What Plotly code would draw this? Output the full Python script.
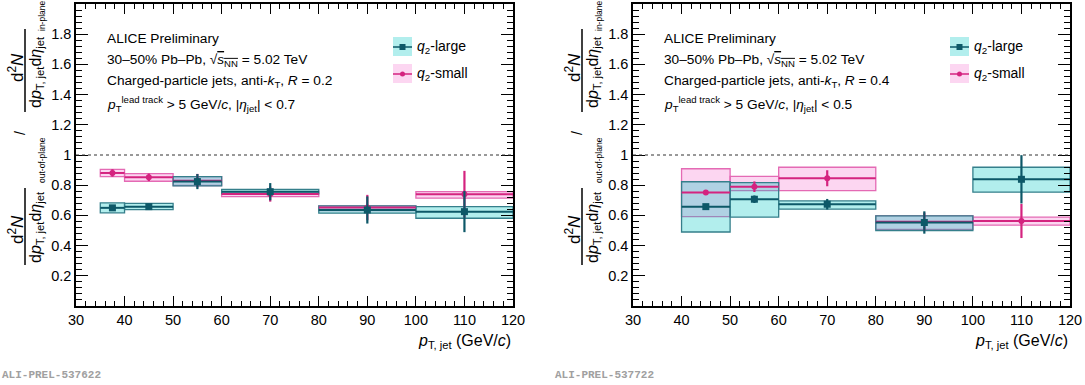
import plotly.graph_objects as go

W, H = 1085, 385
FONT = "Liberation Sans, Arial, Helvetica, sans-serif"

# ---------------- data ----------------
# R = 0.2 panel
bin_lo_R02 = [35, 40, 50, 60, 80, 100]
bin_hi_R02 = [40, 50, 60, 80, 100, 120]
large_R02 = [0.650, 0.658, 0.824, 0.757, 0.636, 0.625]
large_R02_stat = [0.012, 0.012, 0.050, 0.057, 0.090, 0.136]
large_R02_sys_up = [0.033, 0.022, 0.033, 0.016, 0.027, 0.033]
large_R02_sys_dn = [0.033, 0.020, 0.029, 0.015, 0.021, 0.044]
small_R02 = [0.881, 0.852, 0.830, 0.741, 0.652, 0.740]
small_R02_stat = [0.025, 0.025, 0.045, 0.050, 0.084, 0.155]
small_R02_sys_up = [0.024, 0.024, 0.027, 0.016, 0.011, 0.017]
small_R02_sys_dn = [0.024, 0.026, 0.032, 0.016, 0.020, 0.026]

# R = 0.4 panel
bin_lo_R04 = [40, 50, 60, 80, 100]
bin_hi_R04 = [50, 60, 80, 100, 120]
large_R04 = [0.658, 0.707, 0.674, 0.553, 0.839]
large_R04_stat = [0.012, 0.025, 0.035, 0.074, 0.160]
large_R04_sys_up = [0.165, 0.110, 0.022, 0.044, 0.080]
large_R04_sys_dn = [0.168, 0.119, 0.033, 0.053, 0.085]
small_R04 = [0.751, 0.790, 0.846, 0.558, 0.563]
small_R04_stat = [0.012, 0.035, 0.053, 0.060, 0.113]
small_R04_sys_up = [0.158, 0.069, 0.073, 0.040, 0.025]
small_R04_sys_dn = [0.159, 0.026, 0.082, 0.050, 0.028]

x_ticks = [30, 40, 50, 60, 70, 80, 90, 100, 110, 120]
y_tickvals = [0.2, 0.4, 0.6, 0.8, 1.0, 1.2, 1.4, 1.6, 1.8]
y_ticktext = ["0.2", "0.4", "0.6", "0.8", "1", "1.2", "1.4", "1.6", "1.8"]

# ---------------- styles ----------------
TEAL = "#0d5868"
TEAL_EDGE = "#357f8b"
TEAL_FILL = "rgba(0,200,195,0.30)"
MAG = "#d4237f"
MAG_EDGE = "#e46ab4"
MAG_FILL = "rgba(245,90,200,0.25)"


def px(x):
    return x / W


def py(y):
    return 1 - y / H


fig = go.Figure()

panels = [
    dict(xa="x", ya="y", lo=bin_lo_R02, hi=bin_hi_R02,
         L=large_R02, Ls=large_R02_stat, Lu=large_R02_sys_up, Ld=large_R02_sys_dn,
         S=small_R02, Ss=small_R02_stat, Su=small_R02_sys_up, Sd=small_R02_sys_dn),
    dict(xa="x2", ya="y2", lo=bin_lo_R04, hi=bin_hi_R04,
         L=large_R04, Ls=large_R04_stat, Lu=large_R04_sys_up, Ld=large_R04_sys_dn,
         S=small_R04, Ss=small_R04_stat, Su=small_R04_sys_up, Sd=small_R04_sys_dn),
]

for p in panels:
    centers = [(a + b) / 2 for a, b in zip(p["lo"], p["hi"])]
    widths = [b - a for a, b in zip(p["lo"], p["hi"])]
    halfw = [w / 2 for w in widths]
    # systematic boxes: small first, then large
    for vals, up, dn, fill, edge in [
        (p["S"], p["Su"], p["Sd"], MAG_FILL, MAG_EDGE),
        (p["L"], p["Lu"], p["Ld"], TEAL_FILL, TEAL_EDGE),
    ]:
        fig.add_trace(go.Bar(
            x=centers, y=[u + d for u, d in zip(up, dn)],
            base=[v - d for v, d in zip(vals, dn)], width=widths,
            marker=dict(color=fill, line=dict(color=edge, width=1.3)),
            xaxis=p["xa"], yaxis=p["ya"], showlegend=False, hoverinfo="skip"))
    for vals, st, col, sym, size in [
        (p["S"], p["Ss"], MAG, "circle", 6),
        (p["L"], p["Ls"], TEAL, "square", 7),
    ]:
        fig.add_trace(go.Scatter(
            x=centers, y=vals, mode="markers",
            marker=dict(symbol=sym, size=size, color=col),
            error_x=dict(type="data", array=halfw, thickness=2, width=0, color=col),
            error_y=dict(type="data", array=st, thickness=2.2, width=0, color=col),
            xaxis=p["xa"], yaxis=p["ya"], showlegend=False))

# ---------------- axes ----------------
ydom = [py(306), py(4)]
xdoms = [[px(76), px(513)], [px(633), px(1070)]]

common_x = dict(range=[30, 120], tickmode="array", tickvals=x_ticks,
                ticks="inside", ticklen=10, tickwidth=1, tickcolor="black",
                showline=True, linecolor="black", linewidth=1.5, mirror="allticks",
                showgrid=False, zeroline=False,
                tickfont=dict(family=FONT, size=14.5, color="black"),
                minor=dict(tick0=30, dtick=2, ticks="inside", ticklen=5, tickcolor="black", showgrid=False))
common_y = dict(range=[0, 2], domain=ydom, tickmode="array", tickvals=y_tickvals, ticktext=y_ticktext,
                ticks="inside", ticklen=12, tickwidth=1, tickcolor="black",
                showline=True, linecolor="black", linewidth=1.5, mirror="allticks",
                showgrid=False, zeroline=False,
                tickfont=dict(family=FONT, size=14.5, color="black"),
                minor=dict(tick0=0, dtick=0.04, ticks="inside", ticklen=6, tickcolor="black", showgrid=False))

fig.update_layout(
    width=W, height=H, margin=dict(l=0, r=0, t=0, b=0, autoexpand=False),
    paper_bgcolor="white", plot_bgcolor="white", barmode="overlay",
    xaxis=dict(domain=xdoms[0], anchor="y", **common_x),
    yaxis=dict(anchor="x", **common_y),
    xaxis2=dict(domain=xdoms[1], anchor="y2", **common_x),
    yaxis2=dict(anchor="x2", **common_y),
    showlegend=False,
)

shapes = []
annotations = []

panel_text = [
    ("Charged-particle jets, anti-<i>k</i><sub>T</sub>, <i>R</i> = 0.2", "0.7", "ALI-PREL-537622"),
    ("Charged-particle jets, anti-<i>k</i><sub>T</sub>, <i>R</i> = 0.4", "0.5", "ALI-PREL-537722"),
]

for i, (xa, ya) in enumerate([("x", "y"), ("x2", "y2")]):
    dx = 557 * i
    # dashed line at unity
    shapes.append(dict(type="line", xref=f"{xa} domain", yref=ya, x0=0, x1=1, y0=1, y1=1,
                       line=dict(color="#333333", width=1, dash="3px,3px")))
    tf = dict(family=FONT, size=13.7, color="black")
    lines = [
        (38, "ALICE Preliminary"),
        (61, "30–50% Pb–Pb, √<span style='text-decoration:overline'><i>s</i><sub>NN</sub></span> = 5.02 TeV"),
        (82, panel_text[i][0]),
        (104, "<i>p</i><sub>T</sub><sup>lead track</sup> > 5 GeV/<i>c</i>, |<i>η</i><sub>jet</sub>| < " + panel_text[i][1]),
    ]
    for yy, t in lines:
        annotations.append(dict(x=px(105 + dx), y=py(yy), xref="paper", yref="paper",
                                text=t, showarrow=False, xanchor="left", yanchor="middle", font=tf))
    # legend
    for yc, fill, edge, col, sym, label in [
        (47, TEAL_FILL, TEAL_EDGE, TEAL, "square", "<i>q</i><sub>2</sub>-large"),
        (74, MAG_FILL, MAG_EDGE, MAG, "circle", "<i>q</i><sub>2</sub>-small"),
    ]:
        shapes.append(dict(type="rect", xref="paper", yref="paper",
                           x0=px(393 + dx), x1=px(412 + dx), y0=py(yc - 10), y1=py(yc + 9),
                           fillcolor=fill, line=dict(width=0)))
        shapes.append(dict(type="line", xref="paper", yref="paper",
                           x0=px(393 + dx), x1=px(412 + dx), y0=py(yc), y1=py(yc),
                           line=dict(color=col, width=1.5)))
        if sym == "square":
            shapes.append(dict(type="rect", xref="paper", yref="paper",
                               x0=px(399.5 + dx), x1=px(405.5 + dx), y0=py(yc - 3), y1=py(yc + 3),
                               fillcolor=col, line=dict(width=0)))
        else:
            shapes.append(dict(type="circle", xref="paper", yref="paper",
                               x0=px(400 + dx), x1=px(405 + dx), y0=py(yc - 2.5), y1=py(yc + 2.5),
                               fillcolor=col, line=dict(width=0)))
        annotations.append(dict(x=px(415 + dx), y=py(yc), xref="paper", yref="paper", text=label,
                                showarrow=False, xanchor="left", yanchor="middle",
                                font=dict(family=FONT, size=14, color="black")))
    # x title
    annotations.append(dict(x=px(513 + dx), y=py(341), xref="paper", yref="paper",
                            text="<i>p</i><sub>T, jet</sub> (GeV/<i>c</i>)", showarrow=False,
                            xanchor="right", yanchor="middle",
                            font=dict(family=FONT, size=16, color="black")))
    # preliminary id
    annotations.append(dict(x=px(0 + dx - (4 if i else 0)), y=py(375), xref="paper", yref="paper",
                            text="<b>" + panel_text[i][2] + "</b>", showarrow=False,
                            xanchor="left", yanchor="middle",
                            font=dict(family="Liberation Mono, Courier New, monospace", size=11, color="#a0a0a0")))
    # y title: fraction / fraction
    nf = dict(family=FONT, size=17, color="black")
    df = dict(family=FONT, size=16, color="black")
    sf = dict(family=FONT, size=8.5, color="black")
    # top fraction (in-plane)
    annotations.append(dict(x=px(16 + dx), y=py(68), xref="paper", yref="paper", text="d<sup>2</sup><i>N</i>",
                            textangle=-90, showarrow=False, xanchor="center", yanchor="middle", font=nf))
    shapes.append(dict(type="line", xref="paper", yref="paper", x0=px(25 + dx), x1=px(25 + dx),
                       y0=py(29), y1=py(112), line=dict(color="black", width=1.5)))
    annotations.append(dict(x=px(36 + dx), y=py(72), xref="paper", yref="paper",
                            text="d<i>p</i><sub>T, jet</sub>d<i>η</i><sub>jet</sub>",
                            textangle=-90, showarrow=False, xanchor="center", yanchor="middle", font=df))
    annotations.append(dict(x=px(42 + dx), y=py(16), xref="paper", yref="paper", text="in-plane",
                            textangle=-90, showarrow=False, xanchor="center", yanchor="middle", font=sf))
    annotations.append(dict(x=px(20 + dx), y=py(133), xref="paper", yref="paper", text="/",
                            textangle=-90, showarrow=False, xanchor="center", yanchor="middle",
                            font=dict(family=FONT, size=14, color="black")))
    annotations.append(dict(x=px(42 + dx), y=py(160), xref="paper", yref="paper", text="out-of-plane",
                            textangle=-90, showarrow=False, xanchor="center", yanchor="middle", font=sf))
    # bottom fraction (out-of-plane)
    annotations.append(dict(x=px(16 + dx), y=py(230), xref="paper", yref="paper", text="d<sup>2</sup><i>N</i>",
                            textangle=-90, showarrow=False, xanchor="center", yanchor="middle", font=nf))
    shapes.append(dict(type="line", xref="paper", yref="paper", x0=px(25 + dx), x1=px(25 + dx),
                       y0=py(188), y1=py(265), line=dict(color="black", width=1.5)))
    annotations.append(dict(x=px(36 + dx), y=py(227), xref="paper", yref="paper",
                            text="d<i>p</i><sub>T, jet</sub>d<i>η</i><sub>jet</sub>",
                            textangle=-90, showarrow=False, xanchor="center", yanchor="middle", font=df))

fig.update_layout(shapes=shapes, annotations=annotations)
fig.write_html("out.html")
